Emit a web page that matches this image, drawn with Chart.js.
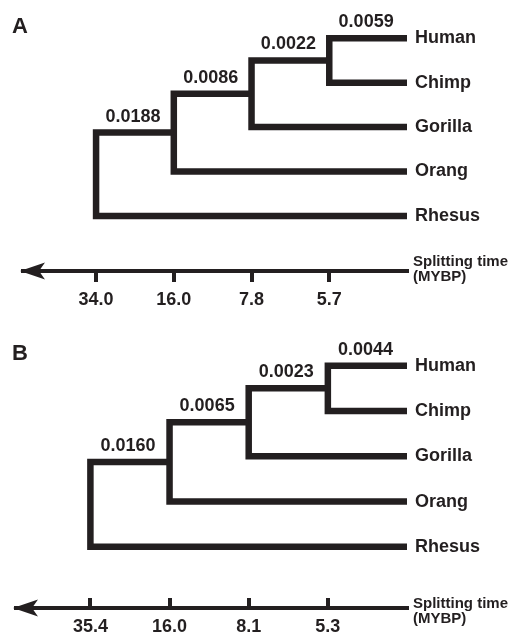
<!DOCTYPE html>
<html><head><meta charset="utf-8">
<script src="https://cdn.jsdelivr.net/npm/chart.js@4"></script>
<style>html,body{margin:0;padding:0;background:#fff;}canvas{display:block;}</style>
</head><body>
<canvas id="chartA" width="513" height="316"></canvas>
<canvas id="chartB" width="513" height="317"></canvas>
<script>
// ---- data ----
const taxa = ['Human', 'Chimp', 'Gorilla', 'Orang', 'Rhesus'];
const splitTimesA = [34.0, 16.0, 7.8, 5.7];          // root -> youngest split
const branchLengthsA = [0.0188, 0.0086, 0.0022, 0.0059];
const splitTimesB = [35.4, 16.0, 8.1, 5.3];
const branchLengthsB = [0.0160, 0.0065, 0.0023, 0.0044];
const axisTitle = ['Splitting time', '(MYBP)'];

const INK = '#231f20';
const FONT = '"Liberation Sans", Arial, Helvetica, sans-serif';
Chart.defaults.font.family = FONT;
Chart.defaults.color = INK;

// topology ((((Human,Chimp),Gorilla),Orang),Rhesus): node k sits at level k, tips at level 4
function nodeRows() {
  const y = [];
  y[3] = (0 + 1) / 2;
  for (let k = 2; k >= 0; k--) y[k] = (y[k + 1] + (4 - k)) / 2;
  return y;
}

function buildDatasets() {
  const ny = nodeRows();
  const ds = [];
  for (let k = 0; k < 4; k++) {
    const upper = k === 3 ? {x: 4, y: 0} : {x: k + 1, y: ny[k + 1]};
    const lower = {x: 4, y: 4 - k};
    ds.push({
      data: [upper, {x: k, y: upper.y}, {x: k, y: lower.y}, lower],
      borderColor: INK, borderWidth: 6.5, pointRadius: 0,
      borderJoinStyle: 'miter', borderCapStyle: 'butt', fill: false, tension: 0
    });
  }
  return ds;
}

function labelPlugin(letter, branchLengths, titleOffsets, letterY) {
  return {
    id: 'treeLabels',
    afterDraw(chart) {
      const {ctx, chartArea} = chart;
      const sx = chart.scales.x, sy = chart.scales.y;
      const ny = nodeRows();
      ctx.save();
      ctx.fillStyle = INK;
      // arrowhead at left end of time axis
      const ay = chartArea.bottom, tip = chartArea.left - 3;
      ctx.beginPath();
      ctx.moveTo(tip, ay);
      ctx.lineTo(tip + 25, ay - 8.5);
      ctx.lineTo(tip + 19, ay);
      ctx.lineTo(tip + 25, ay + 8.5);
      ctx.closePath();
      ctx.fill();
      // panel letter
      ctx.font = 'bold 22px ' + FONT;
      ctx.textAlign = 'left'; ctx.textBaseline = 'alphabetic';
      ctx.fillText(letter, 12, letterY);
      // taxa
      ctx.font = 'bold 18px ' + FONT;
      ctx.textBaseline = 'middle';
      taxa.forEach((t, i) => ctx.fillText(t, sx.getPixelForValue(4) + 8, sy.getPixelForValue(i)));
      // branch lengths
      ctx.textAlign = 'center'; ctx.textBaseline = 'alphabetic';
      branchLengths.forEach((b, i) => {
        const yRow = i + 1 === 4 ? 0 : ny[i + 1];
        const xm = (sx.getPixelForValue(i) + sx.getPixelForValue(i + 1)) / 2 - 2;
        ctx.fillText(b.toFixed(4), xm, sy.getPixelForValue(yRow) - 11);
      });
      // axis title
      ctx.font = 'bold 15px ' + FONT;
      ctx.textAlign = 'left';
      axisTitle.forEach((t, i) => ctx.fillText(t, chartArea.right + 6, chartArea.bottom + titleOffsets[i]));
      ctx.restore();
    }
  };
}

function makeChart(id, times, lengths, o) {
  return new Chart(document.getElementById(id), {
    type: 'line',
    data: {datasets: buildDatasets()},
    options: {
      responsive: false, animation: false, events: [],
      layout: {padding: {left: o.left, right: 106, top: o.top, bottom: 0}},
      plugins: {legend: {display: false}, tooltip: {enabled: false}},
      scales: {
        x: {
          type: 'linear', min: -0.94, max: 4,
          afterBuildTicks: s => { s.ticks = times.map((t, i) => ({value: i})); },
          afterFit: s => { s.height = o.axisH; },
          ticks: {callback: v => times[v].toFixed(1), font: {size: 18, weight: 'bold'}, color: INK,
                  padding: o.pad, maxRotation: 0, autoSkip: false},
          grid: {drawOnChartArea: false, drawTicks: true, tickLength: o.tl, color: INK, lineWidth: 4},
          border: {display: true, color: INK, width: 4}
        },
        y: {type: 'linear', reverse: true, min: -0.5, max: o.ymax, display: false}
      }
    },
    plugins: [labelPlugin(o.letter, lengths, o.titleOff, o.letterY)]
  });
}

makeChart('chartA', splitTimesA, branchLengthsA,
  {letter: 'A', left: 23, top: 16, axisH: 45, ymax: 5.24, tl: 11, pad: 7, titleOff: [-5, 9.5], letterY: 33});
makeChart('chartB', splitTimesB, branchLengthsB,
  {letter: 'B', left: 16, top: 27, axisH: 25, ymax: 5.35, tl: -10, pad: 18, titleOff: [0, 15], letterY: 44});
</script>
</body></html>
